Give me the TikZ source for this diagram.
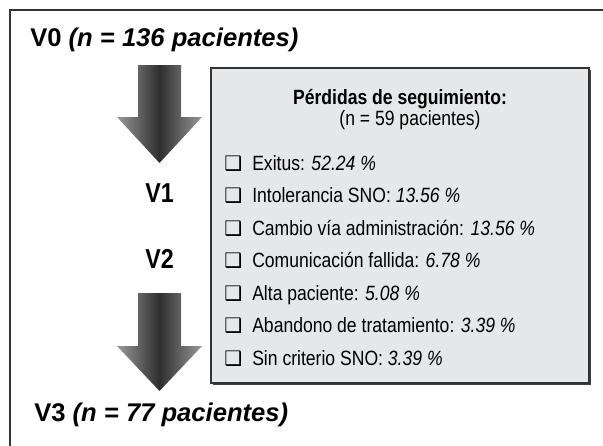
\documentclass[tikz,border=0pt]{standalone}
\usepackage{fontspec}
\setmainfont[FakeStretch=0.85]{Liberation Sans}
\newfontfamily\headfont{Liberation Sans}
\newfontfamily\symfont{DejaVu Sans}
\usetikzlibrary{positioning}
\definecolor{boxgray}{HTML}{E6E7E8}
\definecolor{edgegray}{HTML}{333333}
\tikzset{
  hd/.style={anchor=base west, inner sep=0pt, font=\headfont\fontsize{19.2}{23}\selectfont\bfseries},
  vt/.style={anchor=base, inner sep=0pt, font=\fontsize{20.5}{24}\selectfont\bfseries},
  it/.style={anchor=base west, inner sep=0pt, font=\fontsize{15.5}{18}\selectfont},
  ck/.style={anchor=base west, inner sep=0pt, font=\symfont\fontsize{15}{18}\selectfont},
  bigarrow/.style={left color=black!40, right color=black!40, middle color=black!82}
}

\begin{document}
\begin{tikzpicture}[x=0.75pt, y=-0.75pt]
  \useasboundingbox (0,0) rectangle (603,446);
  % frame
  \draw[line width=1.4pt, edgegray] (10,470) -- (10,10) -- (630,10);

  % losses box
  \fill[black!75] (212.5,69.5) rectangle (590.5,384.5);
  \draw[fill=boxgray, draw=edgegray, line width=0.9pt] (211,68) rectangle (589,383);

  % big arrows
  \foreach \t/\h/\b in {65/117/163, 293/346/391}
    \shade[bigarrow] (138,\t) -- (181,\t) -- (181,\h) -- (202,\h)
      -- (159.5,\b) -- (117,\h) -- (138,\h) -- cycle;

  \node[hd] (v0) at (30,46) {V0 \textit{(n = 136 pacientes)}};
  \node[vt] (v1) at (159.5,202) {V1};
  \node[vt] (v2) at (159.5,268) {V2};
  \node[hd] (v3) at (34,421) {V3 \textit{(n = 77 pacientes)}};

  \node[anchor=base, inner sep=0pt, font=\fontsize{15.5}{18}\selectfont\bfseries]
    (ptit) at (400,104) {Pérdidas de seguimiento:};
  \node[anchor=base, inner sep=0pt, font=\fontsize{15.5}{18}\selectfont]
    (psub) at (410,125) {(n = 59 pacientes)};

  \foreach \lbl/\val [count=\i from 0] in {Exitus/52.24, Intolerancia SNO/13.56,
      Cambio vía administración/13.56, Comunicación fallida/6.78,
      Alta paciente/5.08, Abandono de tratamiento/3.39, Sin criterio SNO/3.39}
  {
    \node[ck] (chk\i) at (224,{170+32.5*\i}) {❑};
    \node[it] (item\i) at (252,{170+32.5*\i}) {\lbl: \textit{\val~\%}};
  }
\end{tikzpicture}
\end{document}
